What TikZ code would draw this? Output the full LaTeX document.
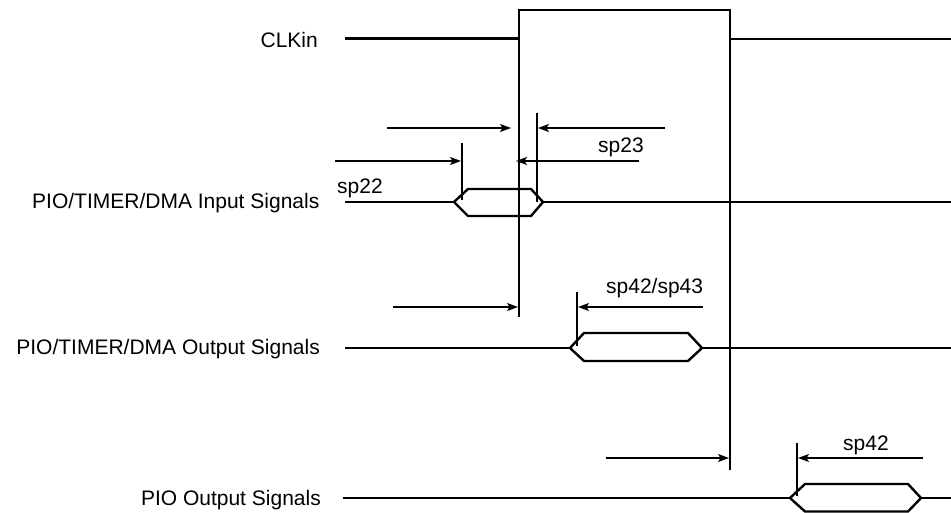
\documentclass[tikz,border=0pt]{standalone}
\usepackage{fontspec}
\setmainfont{Liberation Sans}
\usetikzlibrary{arrows.meta}
\begin{document}
\begin{tikzpicture}[x=1pt,y=-1pt,
  sig/.style={line width=2.4pt,line join=miter},
  refline/.style={line width=1.1pt},
  dim/.style={line width=1.1pt,-{Stealth[length=11pt,width=8pt,inset=2.5pt]}},
  lbl/.style={font=\fontsize{21}{25}\selectfont,inner sep=0pt,anchor=base east},
  tlbl/.style={font=\fontsize{21}{25}\selectfont,inner sep=0pt,anchor=base west}]
\useasboundingbox (0,0) rectangle (951,513);
% labels
\node[lbl] (lclk) at (318,47.3) {CLKin};
\node[lbl] (lin)  at (319.5,209) {PIO/TIMER/DMA Input Signals};
\node[lbl] (lout) at (320,354) {PIO/TIMER/DMA Output Signals};
\node[lbl] (lpio) at (321,505) {PIO Output Signals};
% CLKin
\draw[sig] (345,38.5) -- (519,38.5) -- (519,10) -- (730,10) -- (730,39) -- (951,39);
% clock reference lines
\draw[refline] (519,38.5) -- (519,317);
\draw[refline] (730,39) -- (730,470);
% input signals
\draw[sig] (345,202) -- (454,202);
\draw[sig] (454,202) -- (468,189) -- (531,189) -- (543,202) -- (531,216) -- (468,216) -- cycle;
\draw[sig] (543,202) -- (951,202);
\draw[refline] (462,143) -- (462,200);
\draw[refline] (537,113) -- (537,202);
\coordinate (a1s) at (387,128); \coordinate (a1e) at (511,128);
\coordinate (a2s) at (665,128); \coordinate (a2e) at (538,128);
\coordinate (a3s) at (335,161); \coordinate (a3e) at (461,161);
\coordinate (a4s) at (639,161); \coordinate (a4e) at (516,161);
\draw[dim] (a1s) -- (a1e);
\draw[dim] (a2s) -- (a2e);
\draw[dim] (a3s) -- (a3e);
\draw[dim] (a4s) -- (a4e);
\node[tlbl] (t23) at (598,152.3) {sp23};
\node[tlbl] (t22) at (337,193.3) {sp22};
% output signals
\draw[sig] (345,348) -- (570,348);
\draw[sig] (570,348) -- (584,333) -- (688,333) -- (702,348) -- (688,361) -- (584,361) -- cycle;
\draw[sig] (702,348) -- (951,348);
\draw[refline] (577,292) -- (577,346);
\coordinate (b1s) at (393,307); \coordinate (b1e) at (518,307);
\coordinate (b2s) at (703,307); \coordinate (b2e) at (578,307);
\draw[dim] (b1s) -- (b1e);
\draw[dim] (b2s) -- (b2e);
\node[tlbl] (t4243) at (606,294) {sp42/sp43};
% PIO output signals
\draw[sig] (343,498) -- (790,498);
\draw[sig] (790,498) -- (805,484) -- (908,484) -- (921,498) -- (908,511.5) -- (805,511.5) -- cycle;
\draw[sig] (921,498) -- (951,498);
\draw[refline] (797,443) -- (797,496);
\coordinate (c1s) at (606,458); \coordinate (c1e) at (729,458);
\coordinate (c2s) at (923,458); \coordinate (c2e) at (798,458);
\draw[dim] (c1s) -- (c1e);
\draw[dim] (c2s) -- (c2e);
\node[tlbl] (t42) at (843,450) {sp42};
\end{tikzpicture}
\end{document}
